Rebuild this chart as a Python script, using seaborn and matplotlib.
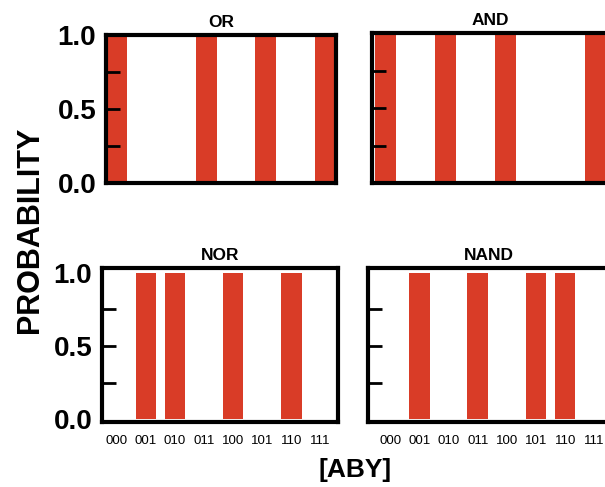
import matplotlib
matplotlib.use("Agg")
import matplotlib.pyplot as plt
import seaborn as sns
import pandas as pd

states = ["000", "001", "010", "011", "100", "101", "110", "111"]
gates = ["OR", "AND", "NOR", "NAND"]
or_vals = [1.0, 0.0, 0.0, 1.0, 0.0, 1.0, 0.0, 1.0]
and_vals = [1.0, 0.0, 1.0, 0.0, 1.0, 0.0, 0.0, 1.0]
nor_vals = [0.0, 1.0, 1.0, 0.0, 1.0, 0.0, 1.0, 0.0]
nand_vals = [0.0, 1.0, 0.0, 1.0, 0.0, 1.0, 1.0, 0.0]
ytick_vals = [0.0, 0.25, 0.5, 0.75, 1.0]
ytick_labels = ["0.0", "", "0.5", "", "1.0"]

values = {"OR": or_vals, "AND": and_vals, "NOR": nor_vals, "NAND": nand_vals}
df = pd.DataFrame([
    {"gate": g, "state": s, "prob": v}
    for g in gates for s, v in zip(states, values[g])
])

sns.set_theme(style="white")
plt.rcParams["font.family"] = ["Liberation Sans", "DejaVu Sans"]
plt.rcParams["text.color"] = "black"
plt.rcParams["xtick.color"] = "black"
plt.rcParams["ytick.color"] = "black"
plt.rcParams["axes.labelcolor"] = "black"
plt.rcParams["axes.titlecolor"] = "black"
plt.rcParams["axes.axisbelow"] = False

W, H = 605, 487
fig = plt.figure(figsize=(W / 100, H / 100), dpi=100)

def box(x0, y0, x1, y1):
    return [x0 / W, 1 - y1 / H, (x1 - x0) / W, (y1 - y0) / H]

layout = {
    "OR":   (box(106, 35, 336, 183), (-0.35, 7.35), (0.0, 1.0), True, False),
    "AND":  (box(372, 33, 608, 183), (-0.45, 7.4), (0.0, 1.0), False, False),
    "NOR":  (box(102, 268, 338, 422), (-0.5, 7.6), (-0.02, 1.034), True, True),
    "NAND": (box(368, 268, 609, 422), (-0.76, 7.5), (-0.02, 1.034), False, True),
}

red = "#D93C27"
for g in gates:
    rect, xl, yl, ylab, xlab = layout[g]
    ax = fig.add_axes(rect)
    sub = df[df.gate == g]
    sns.barplot(data=sub, x="state", y="prob", order=states, color=red,
                saturation=1, width=0.7, ax=ax, errorbar=None, linewidth=0)
    ax.set_axisbelow(False)
    ax.set_xlim(*xl)
    ax.set_ylim(*yl)
    ax.set_xlabel("")
    ax.set_ylabel("")
    ax.set_title(g, fontsize=12.5, fontweight="bold", pad=6)
    for sp in ax.spines.values():
        sp.set_visible(True)
        sp.set_color("black")
        sp.set_linewidth(3)
        sp.set_zorder(5)
    ax.set_yticks(ytick_vals)
    if ylab:
        ax.set_yticklabels(ytick_labels, fontsize=20, fontweight="bold")
    else:
        ax.set_yticklabels([])
    ax.tick_params(axis="y", direction="in", length=10, width=2, color="black",
                   left=True, pad=7)
    yt = ax.yaxis.get_major_ticks()
    yt[0].tick1line.set_visible(False)
    yt[-1].tick1line.set_visible(False)
    if xlab:
        ax.tick_params(axis="x", length=0, labelsize=9.5, pad=9)
    else:
        ax.tick_params(axis="x", length=0, labelbottom=False)

fig.text(30 / W, 1 - 230 / H, "PROBABILITY", rotation=90, ha="center",
         va="center", fontsize=22, fontweight="bold")
fig.text(355 / W, 1 - 470 / H, "[ABY]", ha="center", va="center",
         fontsize=19, fontweight="bold")

fig.savefig("out.png", dpi=100)
